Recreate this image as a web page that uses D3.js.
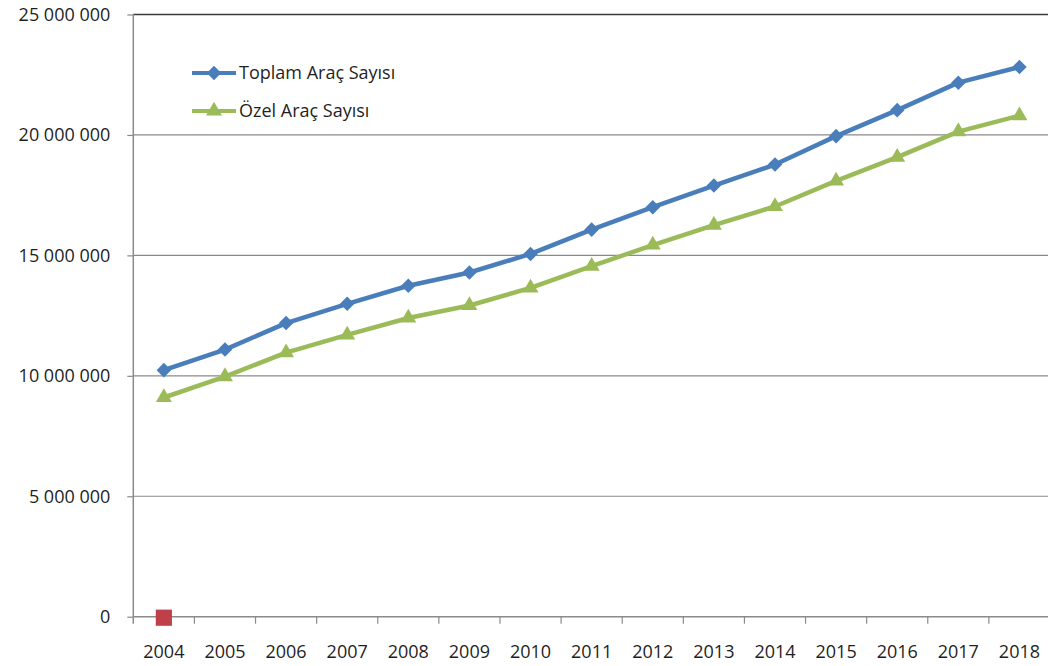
<!DOCTYPE html>
<html>
<head>
<meta charset="utf-8">
<script src="https://cdn.jsdelivr.net/npm/d3@7"></script>
<style>
  html, body { margin: 0; padding: 0; background: #ffffff; }
  svg { display: block; }
  text { font-family: "Open Sans", "DejaVu Sans", sans-serif; fill: #1f1f1f; }
</style>
</head>
<body>
<svg id="chart" width="1048" height="666"></svg>
<script>
// Yıllar (kategori ekseni)
const years = ["2004","2005","2006","2007","2008","2009","2010","2011","2012","2013","2014","2015","2016","2017","2018"];

// Toplam araç sayısı
const toplam = [10236000, 11090000, 12190000, 12990000, 13740000, 14290000, 15060000, 16070000, 17000000, 17900000, 18770000, 19950000, 21030000, 22170000, 22820000];

// Özel araç sayısı
const ozel = [9100000, 9970000, 10960000, 11700000, 12400000, 12920000, 13650000, 14550000, 15430000, 16260000, 17030000, 18090000, 19080000, 20140000, 20800000];

// Üçüncü seri: yalnızca 2004 için sıfır değeri
const ucuncu = [0];

const yTicks = [0, 5000000, 10000000, 15000000, 20000000, 25000000];

const seriesNames = ["Toplam Araç Sayısı", "Özel Araç Sayısı"];

const svg = d3.select("#chart");

const plot = { left: 133.3, right: 1050, top: 14.5, bottom: 616.7 };

const x = d3.scaleBand().domain(years).range([plot.left, plot.right]).padding(0);
const y = d3.scaleLinear().domain([0, 25000000]).range([plot.bottom, plot.top]);

const fmt = d3.formatLocale({ decimal: ",", thousands: " ", grouping: [3], currency: ["", ""] }).format(",d");

// Yatay kılavuz çizgileri
svg.append("g")
  .selectAll("line")
  .data(yTicks.filter(t => t > 0))
  .join("line")
  .attr("x1", plot.left)
  .attr("x2", 1048)
  .attr("y1", d => y(d))
  .attr("y2", d => y(d))
  .attr("stroke", d => d === 25000000 ? "#3a3a3a" : "#8a8a8a")
  .attr("stroke-width", d => d === 25000000 ? 1.6 : 1.2);

// Y ekseni
const yAxis = svg.append("g")
  .attr("transform", `translate(${plot.left},0)`)
  .call(d3.axisLeft(y).tickValues(yTicks).tickFormat(fmt).tickSize(6).tickPadding(17));
yAxis.select(".domain").attr("stroke", "#8a8a8a").attr("stroke-width", 1.5)
  .attr("d", `M0,${plot.top}V${plot.bottom + 7}`);
yAxis.selectAll(".tick line").attr("stroke", "#8a8a8a").attr("stroke-width", 1.2);
yAxis.selectAll(".tick text").style("font-size", "18px").attr("fill", "#1f1f1f");

// X ekseni (kategori sınırlarında işaretler)
const xAxisG = svg.append("g").attr("transform", `translate(0,${plot.bottom})`);
xAxisG.append("line")
  .attr("x1", plot.left).attr("x2", 1048)
  .attr("y1", 0).attr("y2", 0)
  .attr("stroke", "#8a8a8a").attr("stroke-width", 1.5);
xAxisG.selectAll("line.tick")
  .data(years.slice(1))
  .join("line")
  .attr("class", "tick")
  .attr("x1", d => x(d)).attr("x2", d => x(d))
  .attr("y1", 0).attr("y2", 7)
  .attr("stroke", "#8a8a8a").attr("stroke-width", 1.2);
xAxisG.selectAll("text")
  .data(years)
  .join("text")
  .attr("x", d => x(d) + x.bandwidth() / 2)
  .attr("y", 41)
  .attr("text-anchor", "middle")
  .style("font-size", "18px")
  .text(d => d);

const cx = d => x(d) + x.bandwidth() / 2;

const line = d3.line().x(d => cx(d.year)).y(d => y(d.value));

const blue = "#4a7ebb";
const green = "#9bbb59";

function seriesData(vals) {
  return vals.map((v, i) => ({ year: years[i], value: v }));
}

const diamond = d3.symbol().type(d3.symbolDiamond2).size(135);
const triangle = d3.symbol().type(d3.symbolTriangle).size(110);
const square = d3.symbol().type(d3.symbolSquare).size(262);

// Toplam serisi
svg.append("path")
  .datum(seriesData(toplam))
  .attr("fill", "none")
  .attr("stroke", blue)
  .attr("stroke-width", 4.5)
  .attr("stroke-linejoin", "round")
  .attr("d", line);
svg.append("g").selectAll("path")
  .data(seriesData(toplam))
  .join("path")
  .attr("transform", d => `translate(${cx(d.year)},${y(d.value)})`)
  .attr("d", diamond)
  .attr("fill", blue);

// Özel serisi
svg.append("path")
  .datum(seriesData(ozel))
  .attr("fill", "none")
  .attr("stroke", green)
  .attr("stroke-width", 4.5)
  .attr("stroke-linejoin", "round")
  .attr("d", line);
svg.append("g").selectAll("path")
  .data(seriesData(ozel))
  .join("path")
  .attr("transform", d => `translate(${cx(d.year)},${y(d.value)})`)
  .attr("d", triangle)
  .attr("fill", green);

// Üçüncü seri (2004, sıfır)
svg.append("g").selectAll("path")
  .data(seriesData(ucuncu))
  .join("path")
  .attr("transform", d => `translate(${cx(d.year)},${y(d.value) + 1})`)
  .attr("d", square)
  .attr("fill", "#c0404a");

// Gösterge
const legend = svg.append("g");
const legendItems = [
  { name: seriesNames[0], color: blue, sym: diamond, y: 73 },
  { name: seriesNames[1], color: green, sym: triangle, y: 111 }
];
legendItems.forEach(it => {
  legend.append("line")
    .attr("x1", 192).attr("x2", 236)
    .attr("y1", it.y).attr("y2", it.y)
    .attr("stroke", it.color).attr("stroke-width", 4);
  legend.append("path")
    .attr("transform", `translate(214,${it.y})`)
    .attr("d", it.sym)
    .attr("fill", it.color);
  legend.append("text")
    .attr("x", 239)
    .attr("y", it.y + 6)
    .style("font-size", "18px")
    .text(it.name);
});
</script>
</body>
</html>
